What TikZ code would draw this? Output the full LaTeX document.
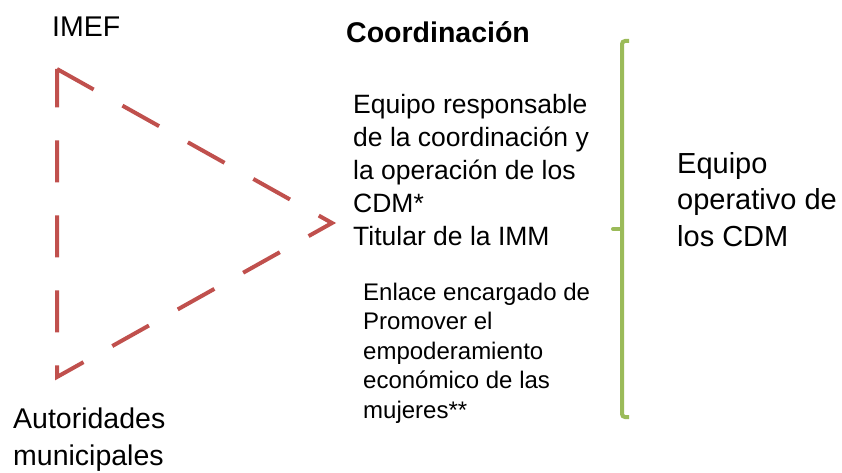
\documentclass[tikz,border=0pt]{standalone}
\usepackage{fontspec}
\setmainfont{Liberation Sans}
\usetikzlibrary{positioning}
\definecolor{redline}{HTML}{C0504D}
\definecolor{greenline}{HTML}{9BBB59}
\tikzset{lbl/.style={inner sep=0pt, anchor=base west, align=left}}

\begin{document}
\begin{tikzpicture}[x=1pt,y=-1pt]
    \useasboundingbox (0,0) rectangle (842,473);

    % corners of the triangle
    \coordinate (top) at (57,69);
    \coordinate (tip) at (332,223);
    \coordinate (bottom) at (57,377);

    \draw[redline, line width=4pt, dash pattern=on 42pt off 33pt] (top) -- (tip) -- (bottom) -- cycle;

    % multi-line labels sit on the baseline of their last line
    \node[lbl, font=\fontsize{28.5}{37}\selectfont] (imef) at (52,37) {IMEF};
    \node[lbl, font=\fontsize{28.5}{37}\selectfont] (autoridades) at (13,465) {Autoridades\\municipales};

    \node[lbl, font=\fontsize{28.5}{34}\selectfont\bfseries] (coord) at (346,43) {Coordinación};
    \node[lbl, font=\fontsize{26.5}{33}\selectfont] (responsable) at (353,245)
        {Equipo responsable\\de la coordinación y\\la operación de los\\CDM*\\Titular de la IMM};
    \node[lbl, font=\fontsize{24}{29.5}\selectfont] (enlace) at (363,418)
        {Enlace encargado de\\Promover el\\empoderamiento\\económico de las\\mujeres**};

    % brace
    \coordinate (btop) at (622,41);
    \coordinate (bmid) at (622,229);
    \coordinate (bbot) at (622,417);
    \draw[greenline, line width=4pt, rounded corners=3pt] ([xshift=7pt]btop) -- (btop) -- (bbot) -- ([xshift=7pt]bbot);
    \draw[greenline, line width=4pt, line cap=round] (bmid) -- ([xshift=-9pt]bmid);

    \node[lbl, font=\fontsize{29}{36.5}\selectfont] (operativo) at (677,246) {Equipo\\operativo de\\los CDM};
\end{tikzpicture}
\end{document}
